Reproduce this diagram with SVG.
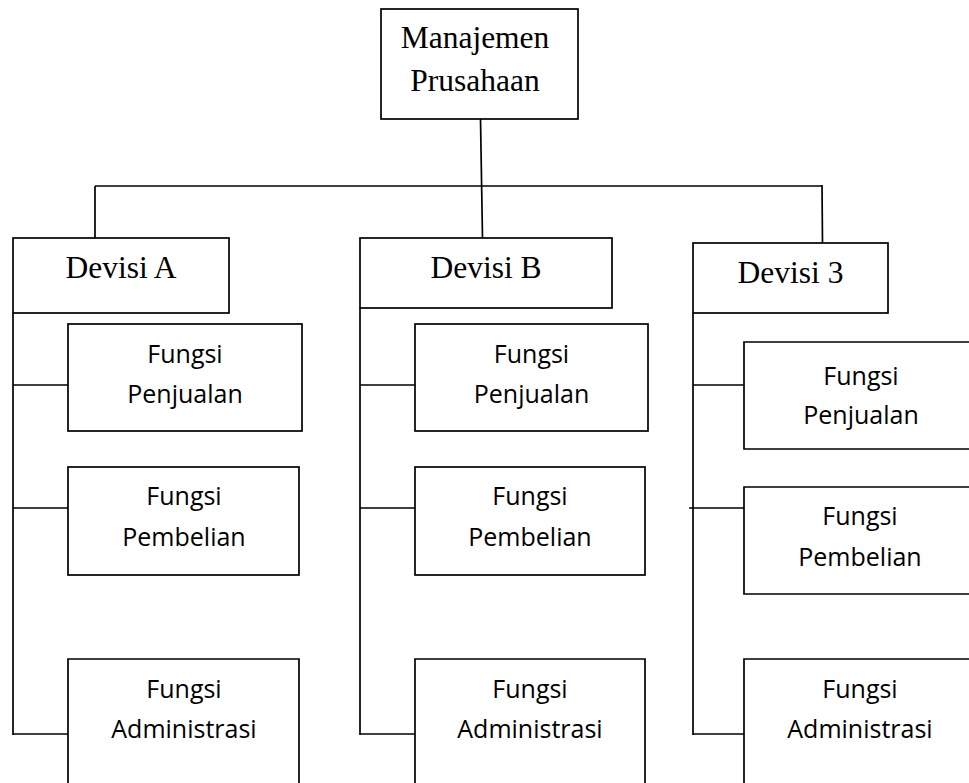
<svg xmlns="http://www.w3.org/2000/svg" width="969" height="783" viewBox="0 0 969 783">
<style>
.box{fill:#fff;stroke:#000;stroke-width:1.7}
.open{fill:none;stroke:#000;stroke-width:1.7}
.ln{fill:none;stroke:#000;stroke-width:1.7}
.serif{font-family:"Liberation Serif","Times New Roman",serif;font-size:31.5px;fill:#000;text-anchor:middle}
.sans{font-family:"Open Sans","Noto Sans",sans-serif;font-size:25px;fill:#000;text-anchor:middle}
</style>
<rect width="969" height="783" fill="#fff"/>
<g id="connectors">
<line class="ln" x1="480.5" y1="119" x2="482.5" y2="238"/>
<line class="ln" x1="95" y1="186" x2="822" y2="186"/>
<line class="ln" x1="95" y1="186" x2="95" y2="238"/>
<line class="ln" x1="822" y1="185" x2="822.5" y2="243"/>
<line class="ln" x1="13" y1="313" x2="13" y2="735"/>
<line class="ln" x1="13" y1="385" x2="68" y2="385"/>
<line class="ln" x1="13" y1="508" x2="68" y2="508"/>
<line class="ln" x1="13" y1="734" x2="68" y2="734"/>
<line class="ln" x1="360" y1="308" x2="360" y2="735"/>
<line class="ln" x1="360" y1="385" x2="415" y2="385"/>
<line class="ln" x1="360" y1="508" x2="415" y2="508"/>
<line class="ln" x1="360" y1="734" x2="415" y2="734"/>
<line class="ln" x1="693" y1="313" x2="693" y2="735"/>
<line class="ln" x1="693" y1="385" x2="744" y2="385"/>
<line class="ln" x1="689" y1="508" x2="744" y2="508"/>
<line class="ln" x1="693" y1="734" x2="744" y2="734"/>
</g>
<g id="manajemen">
<rect class="box" x="381" y="9" width="197" height="110"/>
<text class="serif" x="475" y="48">Manajemen</text>
<text class="serif" x="475" y="90.7">Prusahaan</text>
</g>
<g id="devisi-a">
<rect class="box" x="13" y="238" width="216" height="75"/>
<text class="serif" x="121" y="278">Devisi A</text>
</g>
<g id="devisi-b">
<rect class="box" x="360" y="238" width="252" height="70"/>
<text class="serif" x="486" y="278">Devisi B</text>
</g>
<g id="devisi-3">
<rect class="box" x="693" y="243" width="195" height="70"/>
<text class="serif" x="790.5" y="283">Devisi 3</text>
</g>
<g id="a-penjualan">
<rect class="box" x="68" y="324" width="234" height="107"/>
<text class="sans" x="185" y="363">Fungsi</text>
<text class="sans" x="185" y="403">Penjualan</text>
</g>
<g id="a-pembelian">
<rect class="box" x="68" y="467" width="231" height="108"/>
<text class="sans" x="184" y="505">Fungsi</text>
<text class="sans" x="184" y="546">Pembelian</text>
</g>
<g id="a-administrasi">
<path class="open" d="M68,790 V659 H299 V790"/>
<text class="sans" x="184" y="698">Fungsi</text>
<text class="sans" x="184" y="738">Administrasi</text>
</g>
<g id="b-penjualan">
<rect class="box" x="415" y="324" width="233" height="107"/>
<text class="sans" x="531.5" y="363">Fungsi</text>
<text class="sans" x="531.5" y="403">Penjualan</text>
</g>
<g id="b-pembelian">
<rect class="box" x="415" y="467" width="230" height="108"/>
<text class="sans" x="530" y="505">Fungsi</text>
<text class="sans" x="530" y="546">Pembelian</text>
</g>
<g id="b-administrasi">
<path class="open" d="M415,790 V659 H645 V790"/>
<text class="sans" x="530" y="698">Fungsi</text>
<text class="sans" x="530" y="738">Administrasi</text>
</g>
<g id="c-penjualan">
<path class="open" d="M975,342 H744 V449 H975"/>
<text class="sans" x="861" y="385">Fungsi</text>
<text class="sans" x="861" y="424">Penjualan</text>
</g>
<g id="c-pembelian">
<path class="open" d="M975,487 H744 V594 H975"/>
<text class="sans" x="860" y="525">Fungsi</text>
<text class="sans" x="860" y="566">Pembelian</text>
</g>
<g id="c-administrasi">
<path class="open" d="M975,659 H744 V790"/>
<text class="sans" x="860" y="698">Fungsi</text>
<text class="sans" x="860" y="738">Administrasi</text>
</g>
</svg>
